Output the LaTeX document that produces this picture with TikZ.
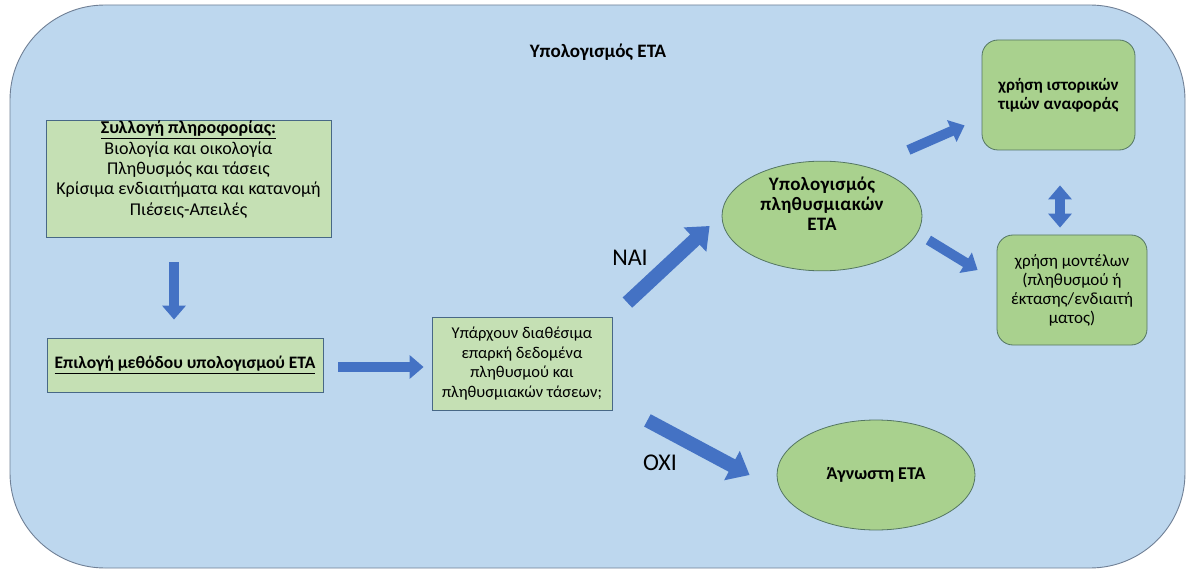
\documentclass[tikz,border=0pt]{standalone}
\usepackage{fontspec}
\setmainfont{Carlito}
\usepackage{tikz}
\usetikzlibrary{shapes,arrows.meta,positioning,calc}
\definecolor{panelcolor}{RGB}{189,215,238}
\definecolor{paneledge}{RGB}{112,128,150}
\definecolor{boxcolor}{RGB}{197,224,180}
\definecolor{boxedge}{RGB}{72,104,134}
\definecolor{leafcolor}{RGB}{169,209,142}
\definecolor{leafedge}{RGB}{84,118,98}
\definecolor{arrowcolor}{RGB}{68,114,196}

\tikzset{
    infobox/.style={draw=boxedge, fill=boxcolor, line width=0.8pt, inner sep=0pt,
                    align=center, font=\fontsize{17.5}{20}\selectfont},
    leafbox/.style={draw=leafedge, fill=leafcolor, line width=0.8pt, rounded corners=16pt,
                    inner sep=0pt, align=center, font=\fontsize{17}{19}\selectfont},
    leafoval/.style={ellipse, draw=leafedge, fill=leafcolor, line width=0.8pt, inner sep=0pt,
                     align=center, font=\bfseries\fontsize{18}{20}\selectfont},
    blockarrow/.style={draw=arrowcolor, line width=14pt,
                       -{Triangle[width=32pt,length=20pt]}},
    smallarrow/.style={draw=arrowcolor, line width=10pt,
                       -{Triangle[width=23pt,length=14pt]}},
    answer/.style={font=\fontsize{24}{28}\selectfont}
}

\begin{document}
\begin{tikzpicture}[x=1pt, y=-1pt]
    \useasboundingbox (0,0) rectangle (1189,572);
    \fill[white] (0,0) rectangle (1189,572);
    \draw[draw=paneledge, fill=panelcolor, line width=0.9pt, rounded corners=95pt]
        (10,5) rectangle (1185,568);

    \node[font=\bfseries\fontsize{19}{22}\selectfont] (title) at (598,52) {Υπολογισμός ΕΤΑ};

    \node[infobox, font=\fontsize{18}{20.3}\selectfont] (collect) at (188.5,178.5)
        {\parbox[c][117pt][t]{285pt}{\centering\vspace{1pt}
        \textbf{\underline{Συλλογή πληροφορίας:}}\\
        Βιολογία και οικολογία\\
        Πληθυσμός και τάσεις\\
        Κρίσιμα ενδιαιτήματα και κατανομή\\
        Πιέσεις-Απειλές}};
    \node[infobox, minimum width=276pt, minimum height=54pt] (method) at (185,365)
        {\textbf{\underline{Επιλογή μεθόδου υπολογισμού ΕΤΑ}}};
    \node[infobox, minimum width=180pt, minimum height=93pt, font=\fontsize{16.5}{19.5}\selectfont]
        (dataq) at (522,363.5)
        {Υπάρχουν διαθέσιμα\\ επαρκή δεδομένα\\ πληθυσμού και\\ πληθυσμιακών τάσεων;};

    \node[leafoval, minimum width=200pt, minimum height=104pt,
          font=\bfseries\fontsize{19}{20}\selectfont\addfontfeature{LetterSpace=1.5}]
        (popeta) at (822,216) {Υπολογισμός\\ πληθυσμιακών\\ ΕΤΑ\\[-2pt]\strut};
    \node[leafoval, minimum width=198pt, minimum height=110pt] (unknown) at (876,475)
        {Άγνωστη ΕΤΑ};
    \node[leafbox, minimum width=153pt, minimum height=110pt, font=\bfseries\fontsize{17}{19}\selectfont]
        (history) at (1058.5,95) {χρήση ιστορικών\\ τιμών αναφοράς};
    \node[leafbox, minimum width=150pt, minimum height=110pt] (models) at (1072,290)
        {χρήση μοντέλων\\ (πληθυσμού ή\\ έκτασης/ενδιαιτή\\ ματος)};

    \node[answer] (yes) at (630,258) {NAI};
    \node[answer] (no) at (660,463) {OXI};

    \draw[smallarrow] ([shift={(-14.5,25)}]collect.south) -- ([shift={(-11,-18)}]method.north);
    \draw[smallarrow] ([shift={(15,2)}]method.east) -- ([shift={(-8,3.5)}]dataq.west);
    \draw[blockarrow] ([shift={(15,-14)}]dataq.north east) -- ([shift={(-12,10)}]popeta.west);
    \draw[blockarrow] ([shift={(35,10)}]dataq.south east) -- ([shift={(-27,0)}]unknown.west);
    \draw[smallarrow] ([shift={(-14,-66)}]popeta.east) -- ([shift={(-17,-25)}]history.south west);
    \draw[smallarrow] ([shift={(6,24)}]popeta.east) -- ([shift={(-19,-20)}]models.west);
    \draw[smallarrow, {Triangle[width=23pt,length=14pt]}-{Triangle[width=23pt,length=14pt]}]
        ([shift={(1.5,35)}]history.south) -- ([shift={(-12,-7)}]models.north);
\end{tikzpicture}
\end{document}
